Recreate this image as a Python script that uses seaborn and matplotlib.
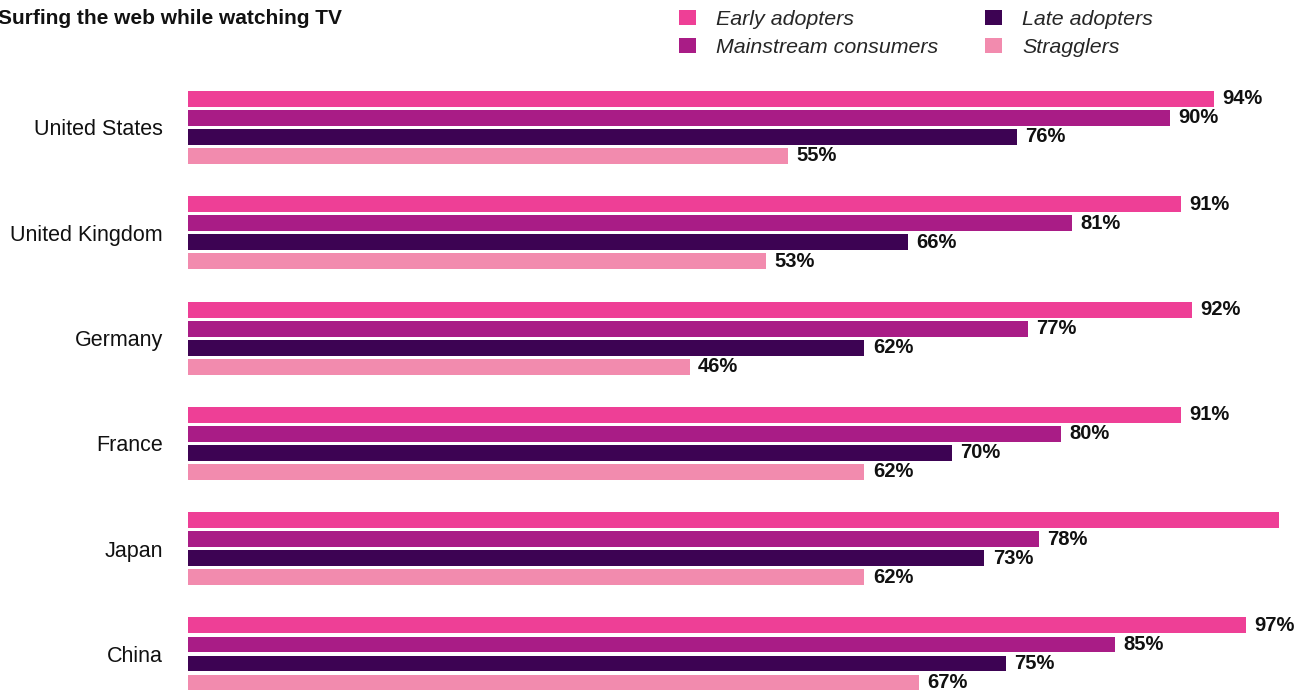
import matplotlib
matplotlib.use("Agg")
import matplotlib.pyplot as plt
from matplotlib.patches import Patch
import seaborn as sns
import pandas as pd

countries = ["United States", "United Kingdom", "Germany", "France", "Japan", "China"]
segments = ["Early adopters", "Mainstream consumers", "Late adopters", "Stragglers"]
early = [94, 91, 92, 91, 100, 97]
mainstream = [90, 81, 77, 80, 78, 85]
late = [76, 66, 62, 70, 73, 75]
stragglers = [55, 53, 46, 62, 62, 67]
colors = ["#EE3F96", "#A91C86", "#3D0353", "#F28BAE"]
title = "Surfing the web while watching TV"

rows = []
for seg, vals in zip(segments, [early, mainstream, late, stragglers]):
    for c, v in zip(countries, vals):
        rows.append({"Country": c, "Segment": seg, "Value": v})
df = pd.DataFrame(rows)

sns.set_theme(style="white")
plt.rcParams["font.family"] = ["Liberation Sans", "DejaVu Sans"]

W, H = 1298, 692
fig = plt.figure(figsize=(W / 100, H / 100), dpi=100)
ax = fig.add_axes([188 / W, 0, 1 - 188 / W, 1 - 80 / H])

sns.barplot(data=df, y="Country", x="Value", hue="Segment", order=countries,
            hue_order=segments, palette=colors, orient="h", width=0.722, gap=0.16,
            linewidth=0, saturation=1, ax=ax, legend=False)

xmax = (W - 188) / 10.91
ax.set_xlim(0, xmax)
ax.set_ylim(5.361, -0.451)
for s in ax.spines.values():
    s.set_visible(False)
ax.set_xticks([])
ax.set_xlabel("")
ax.set_ylabel("")
ax.tick_params(axis="y", length=0, pad=18, labelsize=15.5)
for lab in ax.get_yticklabels():
    lab.set_color("#111111")

for cont in ax.containers:
    # labels that would fall beyond the right edge of the figure are not shown
    labels = [f"{int(v)}%" if v < 99 else "" for v in cont.datavalues]
    ax.bar_label(cont, labels=labels, padding=6, fontsize=14.5, fontweight="bold",
                 color="#111111", clip_on=False)

fig.text(-2 / W, 1 - 18 / H, title, fontsize=15, fontweight="bold",
         va="center", ha="left", color="#111111")

handles = [Patch(facecolor=c, edgecolor="none", label=s) for c, s in zip(colors, segments)]
fig.legend(handles=handles, loc="upper left", bbox_to_anchor=(668 / W, 1 + 1 / H),
           ncol=2, frameon=False, borderpad=0, handlelength=0.8, handleheight=0.75,
           handletextpad=0.93, columnspacing=2.2, labelspacing=0.4,
           prop={"style": "italic", "size": 15.4, "family": "Liberation Sans"})

fig.savefig("out.png", dpi=100)
